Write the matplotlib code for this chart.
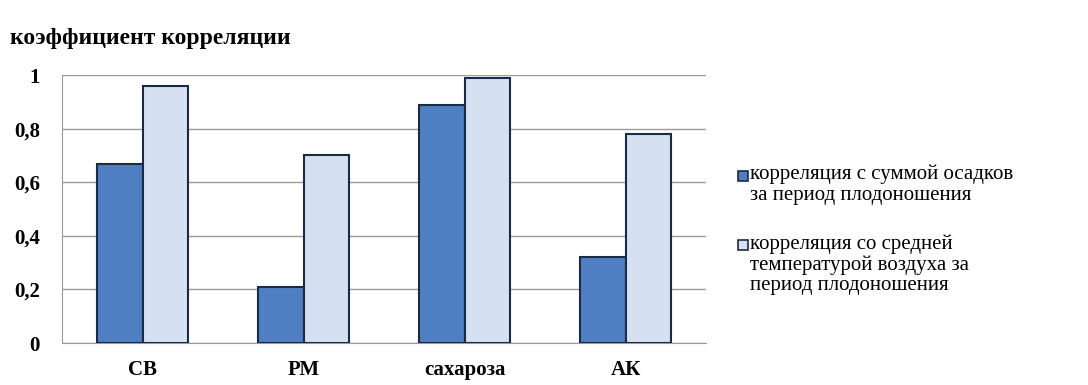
import matplotlib
matplotlib.use("Agg")
import matplotlib.pyplot as plt
from matplotlib.patches import Rectangle
import numpy as np

categories = ["СВ", "РМ", "сахароза", "АК"]
precip_corr = [0.67, 0.21, 0.89, 0.32]
temp_corr = [0.96, 0.70, 0.99, 0.78]
series_labels = ["корреляция с суммой осадков\nза период плодоношения",
                 "корреляция со средней\nтемпературой воздуха за\nпериод плодоношения"]
yticks = [0, 0.2, 0.4, 0.6, 0.8, 1.0]
ytick_labels = ["0", "0,2", "0,4", "0,6", "0,8", "1"]
title = "коэффициент корреляции"

colors = ["#4f7fc2", "#d5e1f1"]
edge = "#1c2b45"

plt.rcParams['font.family'] = ['Liberation Serif', 'DejaVu Serif']

fig = plt.figure(figsize=(10.88, 3.85), dpi=100)
ax = fig.add_axes([0.057, 0.109, 0.592, 0.696])

x = np.arange(len(categories))
w = 0.285
b1 = ax.bar(x - w/2, precip_corr, w, color=colors[0], edgecolor=edge, linewidth=1.5,
            label=series_labels[0], zorder=3)
b2 = ax.bar(x + w/2, temp_corr, w, color=colors[1], edgecolor=edge, linewidth=1.5,
            label=series_labels[1], zorder=3)

ax.set_xlim(-0.5, 3.5)
ax.set_ylim(0, 1)
ax.set_yticks(yticks)
ax.set_yticklabels(ytick_labels, fontsize=15, fontweight="bold")
ax.set_xticks(x)
ax.set_xticklabels(categories, fontsize=15, fontweight="bold")
ax.tick_params(axis='y', length=0, pad=16)
ax.tick_params(axis='x', length=0, pad=12)
ax.yaxis.grid(True, color="#9a9a9a", linewidth=1, zorder=0)
for s in ["top", "right"]:
    ax.spines[s].set_visible(False)
ax.spines["left"].set_color("#9a9a9a")
ax.spines["bottom"].set_color("#9a9a9a")

fig.text(0.009, 0.901, title, fontsize=17, fontweight="bold", ha="left", va="center")

# legend (manual, square aligned with the first line of each entry)
W, H = 1088, 385
entries_top_line_y = [176, 245]
for lbl, col, yc in zip(series_labels, colors, entries_top_line_y):
    fig.patches.append(Rectangle((738 / W, 1 - (yc + 5) / H), 10 / W, 10 / H,
                                 transform=fig.transFigure, facecolor=col,
                                 edgecolor=edge, linewidth=1.2))
    fig.text(750 / W, 1 - (yc - 11) / H, lbl, fontsize=15, ha="left", va="top",
             linespacing=1.12)

fig.savefig("out.png", dpi=100)
